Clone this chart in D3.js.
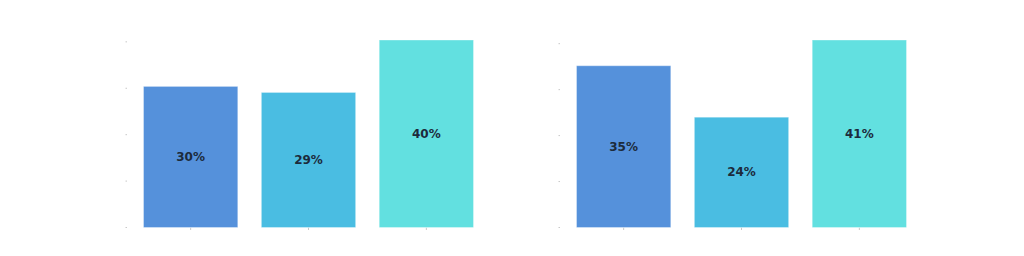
<!DOCTYPE html>
<html>
<head>
<meta charset="utf-8">
<script src="https://cdn.jsdelivr.net/npm/d3@7"></script>
<style>
  body { margin: 0; background: #fff; }
  .lbl { font-family: "DejaVu Sans", sans-serif; font-weight: bold; font-size: 12px; fill: #1c2b3c; }
</style>
</head>
<body>
<script>
// data: two panels, three bars each (shares in %)
var categories = ["A", "B", "C"];
var leftValues = [30.4, 29.1, 40.4];
var rightValues = [35.2, 24.0, 40.8];
var yTicks = [0, 10, 20, 30, 40];
var barColors = ["#5591db", "#4abde2", "#62e0e0"];

var width = 1024, height = 256;
var svg = d3.select("body").append("svg")
    .attr("width", width)
    .attr("height", height);

var top_ = 40, bottom = 227.5;

function panel(x0, x1, values) {
  var g = svg.append("g");

  var x = d3.scaleBand()
      .domain(categories)
      .range([x0, x1])
      .paddingInner(0.2)
      .paddingOuter(0.14);

  var y = d3.scaleLinear()
      .domain([0, d3.max(values)])
      .range([bottom, top_]);

  // tiny tick marks, no labels
  g.selectAll(".ytick")
      .data(yTicks)
      .enter().append("line")
      .attr("x1", x0 - 1.5)
      .attr("x2", x0)
      .attr("y1", function (d) { return y(d); })
      .attr("y2", function (d) { return y(d); })
      .attr("stroke", "#bbb")
      .attr("stroke-width", 0.8);

  g.selectAll(".xtick")
      .data(categories)
      .enter().append("line")
      .attr("x1", function (d) { return x(d) + x.bandwidth() / 2; })
      .attr("x2", function (d) { return x(d) + x.bandwidth() / 2; })
      .attr("y1", bottom)
      .attr("y2", bottom + 2.5)
      .attr("stroke", "#bbb")
      .attr("stroke-width", 0.8);

  g.selectAll(".bar")
      .data(values)
      .enter().append("rect")
      .attr("x", function (d, i) { return x(categories[i]); })
      .attr("y", function (d) { return y(d); })
      .attr("width", x.bandwidth())
      .attr("height", function (d) { return bottom - y(d); })
      .attr("fill", function (d, i) { return barColors[i]; })
      .attr("stroke", "#ffffff")
      .attr("stroke-opacity", 0.35)
      .attr("stroke-width", 1);

  g.selectAll(".lbl")
      .data(values)
      .enter().append("text")
      .attr("class", "lbl")
      .attr("x", function (d, i) { return x(categories[i]) + x.bandwidth() / 2; })
      .attr("y", function (d) { return (y(d) + bottom) / 2; })
      .attr("text-anchor", "middle")
      .attr("dominant-baseline", "central")
      .text(function (d) { return Math.round(d) + "%"; });
}

panel(127, 490, leftValues);
panel(560, 923, rightValues);
</script>
</body>
</html>
